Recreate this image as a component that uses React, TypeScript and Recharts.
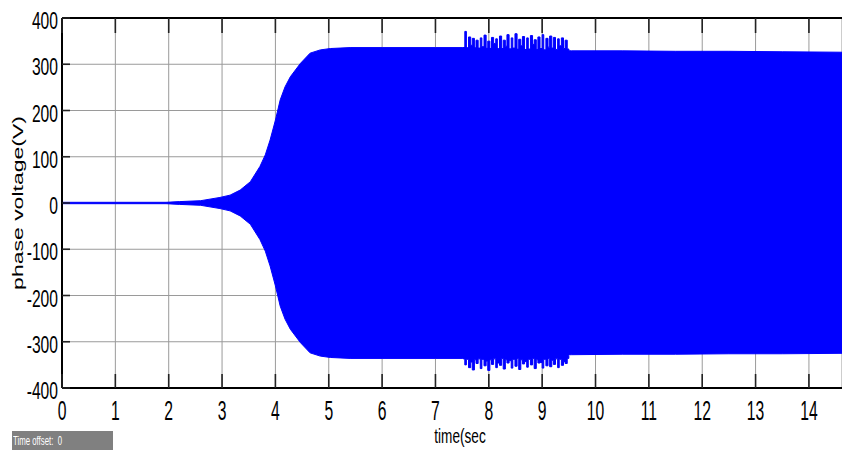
import React from 'react';
import { ComposedChart, Area, XAxis, YAxis, CartesianGrid } from 'recharts';

// Envelope of the phase voltage: start-up and growth
const riseTime = [0, 1.95, 2.2, 2.6, 2.96, 3.15, 3.34, 3.53, 3.71, 3.81, 3.9, 4.0, 4.09, 4.18, 4.28, 4.47, 4.65, 4.84, 5.03, 5.4, 6.0, 7.0, 7.5];
const riseUpper = [1.5, 1.5, 3, 5, 12, 17, 28, 46, 79, 104, 136, 179, 223, 251, 273, 302, 324, 331, 334, 336, 336, 336, 336];
const riseLower = [-1.5, -1.5, -3, -5, -12, -17, -28, -46, -79, -104, -136, -179, -223, -251, -273, -302, -324, -331, -334, -336, -336, -336, -336];

// Disturbed interval with overshoot spikes (held value per sample)
const burstTime = [
  7.52, 7.55, 7.58, 7.62, 7.66, 7.69, 7.73, 7.76, 7.8, 7.84,
  7.87, 7.91, 7.95, 7.98, 8.02, 8.05, 8.09, 8.13, 8.16, 8.2,
  8.24, 8.27, 8.31, 8.34, 8.38, 8.42, 8.45, 8.49, 8.53, 8.56,
  8.6, 8.63, 8.67, 8.71, 8.74, 8.78, 8.82, 8.85, 8.89, 8.92,
  8.96, 9.0, 9.03, 9.07, 9.11, 9.14, 9.18, 9.21, 9.25, 9.29,
  9.32, 9.36, 9.4, 9.43, 9.47, 9.5,
];
const burstUpper = [
  336, 371, 334, 359, 341, 356, 335, 352, 332, 357,
  338, 363, 331, 350, 333, 358, 345, 355, 332, 361,
  334, 352, 339, 364, 333, 357, 335, 366, 332, 354,
  340, 360, 331, 357, 333, 362, 343, 353, 332, 359,
  334, 364, 331, 356, 337, 361, 335, 358, 332, 355,
  340, 357, 334, 352, 333, 330,
];
const burstLower = [
  -337, -350, -338, -356, -344, -361, -339, -347, -337, -358,
  -338, -352, -342, -362, -339, -349, -337, -356, -346, -351,
  -336, -359, -339, -346, -341, -357, -338, -353, -336, -360,
  -339, -348, -343, -355, -338, -350, -336, -358, -339, -346,
  -345, -357, -338, -352, -336, -354, -340, -349, -337, -356,
  -338, -351, -343, -347, -336, -330,
];

// Settled operation
const settleTime = [9.55, 10.5, 11.5, 12.5, 13.5, 14.62];
const settleUpper = [329, 329, 328, 328, 327, 326];
const settleLower = [-328, -327, -327, -326, -326, -325];

const xTicks = [0, 1, 2, 3, 4, 5, 6, 7, 8, 9, 10, 11, 12, 13, 14];
const yTicks = [-400, -300, -200, -100, 0, 100, 200, 300, 400];

const toRows = (key: string, t: number[], hi: number[], lo: number[]) =>
  t.map((time, i) => ({ t: time, [key]: [lo[i], hi[i]] }));

const data = [
  ...toRows('env', riseTime, riseUpper, riseLower),
  ...toRows('spike', burstTime, burstUpper, burstLower),
  ...toRows('env', settleTime, settleUpper, settleLower),
];

const FONT = 'Arial, "Liberation Sans", Helvetica, sans-serif';
const BLUE = '#0000ff';
const TICK_COLOR = '#222';
const X_TICK_MARGIN = 12;
const Y_TICK_MARGIN = 4;

const BottomTick = (props: any) => {
  const { x, y, payload } = props;
  const axisY = y - X_TICK_MARGIN;
  return (
    <g>
      <line x1={x} x2={x} y1={axisY} y2={axisY - 14} stroke={TICK_COLOR} strokeWidth={1.6} />
      <text
        transform={`translate(${x},${y + 20}) scale(0.56,1)`}
        textAnchor="middle"
        fontSize={28}
        fontFamily={FONT}
        fill="#000"
      >
        {payload.value}
      </text>
    </g>
  );
};

const TopTick = (props: any) => {
  const { x, y } = props;
  return <line x1={x} x2={x} y1={y} y2={y + 15} stroke={TICK_COLOR} strokeWidth={1.6} />;
};

const LeftTick = (props: any) => {
  const { x, y, payload } = props;
  const axisX = x + Y_TICK_MARGIN;
  return (
    <g>
      <line x1={axisX} x2={axisX + 8} y1={y} y2={y} stroke={TICK_COLOR} strokeWidth={1.6} />
      <text
        transform={`translate(${x},${y + 11}) scale(0.68,1)`}
        textAnchor="end"
        fontSize={23}
        fontFamily={FONT}
        fill="#000"
      >
        {payload.value}
      </text>
    </g>
  );
};

const YTitle = (props: any) => {
  const vb = props.viewBox || { x: 0, y: 18, width: 62, height: 370 };
  const cx = vb.x + 18;
  const cy = vb.y + vb.height / 2;
  return (
    <text
      transform={`translate(${cx},${cy}) scale(0.6,1) rotate(-90)`}
      textAnchor="middle"
      dominantBaseline="central"
      fontSize={23}
      fontFamily={FONT}
      fill="#000"
    >
      phase voltage(V)
    </text>
  );
};

const XTitle = (props: any) => {
  const vb = props.viewBox || { x: 62, y: 388, width: 780, height: 62 };
  const cx = vb.x + vb.width / 2 + 8;
  return (
    <text
      transform={`translate(${cx},${vb.y + 55}) scale(0.68,1)`}
      textAnchor="middle"
      fontSize={20}
      fontFamily={FONT}
      fill="#000"
    >
      time(sec
    </text>
  );
};

export default function App() {
  return (
    <div style={{ position: 'absolute', left: 0, top: 0, width: 842, height: 450, background: '#fff' }}>
      <ComposedChart
        width={842}
        height={450}
        data={data}
        margin={{ top: 17, right: 0, bottom: 0, left: 0 }}
      >
        <CartesianGrid stroke="#9a9a9a" strokeWidth={1} />
        <Area
          type="linear"
          dataKey="env"
          connectNulls
          stroke={BLUE}
          strokeWidth={1}
          fill={BLUE}
          fillOpacity={1}
          isAnimationActive={false}
          dot={false}
          activeDot={false}
        />
        <Area
          type="stepAfter"
          dataKey="spike"
          stroke={BLUE}
          strokeWidth={1}
          fill={BLUE}
          fillOpacity={1}
          isAnimationActive={false}
          dot={false}
          activeDot={false}
        />
        <XAxis
          dataKey="t"
          type="number"
          domain={[0, 14.62]}
          ticks={xTicks}
          interval={0}
          allowDataOverflow
          height={62}
          tickSize={0}
          tickMargin={X_TICK_MARGIN}
          tick={<BottomTick />}
          axisLine={{ stroke: '#000', strokeWidth: 2 }}
          label={<XTitle />}
        />
        <XAxis
          xAxisId="top"
          orientation="top"
          dataKey="t"
          type="number"
          domain={[0, 14.62]}
          ticks={xTicks}
          interval={0}
          allowDataOverflow
          height={1}
          tickSize={0}
          tickMargin={0}
          tick={<TopTick />}
          axisLine={{ stroke: '#000', strokeWidth: 2 }}
        />
        <YAxis
          type="number"
          domain={[-400, 400]}
          ticks={yTicks}
          interval={0}
          allowDataOverflow
          width={62}
          tickSize={0}
          tickMargin={Y_TICK_MARGIN}
          tick={<LeftTick />}
          axisLine={{ stroke: '#000', strokeWidth: 2 }}
          label={<YTitle />}
        />
      </ComposedChart>
      <div
        style={{
          position: 'absolute',
          left: 12,
          top: 431,
          width: 101,
          height: 19,
          background: '#808080',
          overflow: 'hidden',
        }}
      >
        <span
          style={{
            position: 'absolute',
            left: 1,
            top: 3,
            display: 'inline-block',
            whiteSpace: 'pre',
            color: '#fff',
            fontFamily: FONT,
            fontSize: 13,
            lineHeight: '13px',
            transform: 'scale(0.6,1)',
            transformOrigin: 'left top',
          }}
        >
          Time offset:  0
        </span>
      </div>
    </div>
  );
}
